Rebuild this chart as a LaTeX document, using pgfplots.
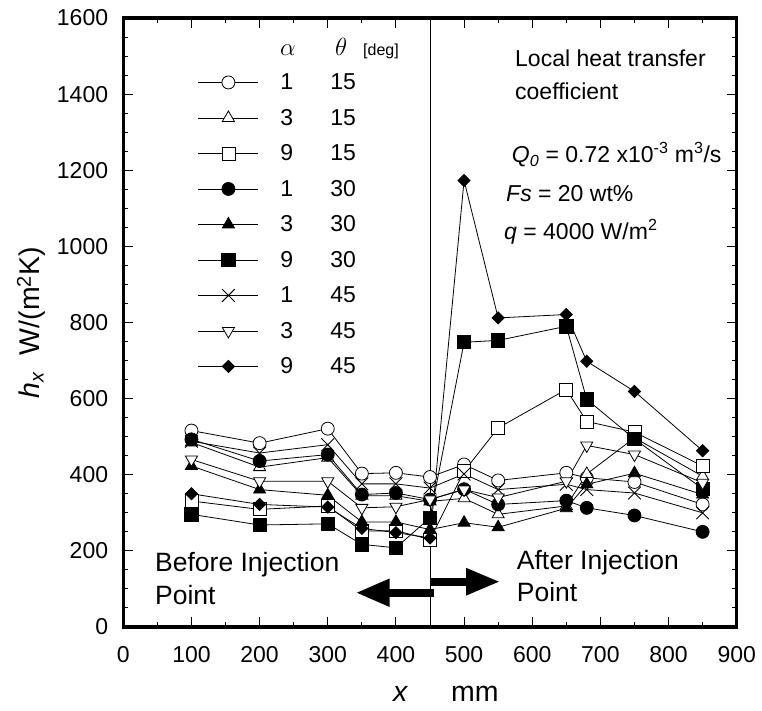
\documentclass[border=0pt]{standalone}
\usepackage{fontspec}
\setmainfont{Liberation Sans}
\usepackage{pgfplots}
\usepackage{pgfplotstable}
\pgfplotsset{compat=1.18}
\usetikzlibrary{arrows.meta}

% columns: s1 (1,15) s2 (3,15) s3 (9,15) s4 (1,30) s5 (3,30) s6 (9,30) s7 (1,45) s8 (3,45) s9 (9,45)
\pgfplotstableread{
x   s1  s2  s3  s4  s5  s6  s7  s8  s9
100 516 485 331 493 423 296 488 440 350
200 483 420 309 436 361 268 457 383 322
300 521 445 318 453 346 271 479 383 315
350 403 345 252 348 276 217 376 313 259
400 405 345 253 352 276 208 376 316 248
450 394 330 230 335 256 287 365 335 234
500 427 338 409 362 274 748 402 361 1173
550 385 296 523 322 262 753 361 340 812
650 405 318 624 332 312 790 375 383 821
680 392 402 540 313 375 598 361 477 698
750 381 497 512 293 404 494 352 453 619
850 322 396 423 250 348 363 300 379 463
}\data

\newcommand{\tf}{\fontsize{23}{27}\selectfont}
\newcommand{\bif}{\fontsize{26.5}{30}\selectfont}
\newcommand{\lf}{\fontsize{28.5}{33}\selectfont}

\begin{document}
\begin{tikzpicture}
\useasboundingbox (-123.3pt,-84pt) rectangle (638.7pt,627pt);
\begin{axis}[
  scale only axis, width=613.4pt, height=609pt,
  xmin=0, xmax=900, ymin=0, ymax=1600,
  xtick={0,100,...,900}, ytick={0,200,...,1600},
  minor x tick num=1, minor y tick num=3,
  tick align=inside,
  major tick length=10pt, minor tick length=5pt,
  tick style={black, line width=1pt},
  axis line style={line width=3.5pt},
  tick label style={font=\tf, inner sep=0pt},
  yticklabel style={xshift=-15pt},
  xticklabel style={yshift=-19pt},
  /pgf/number format/assume math mode=true,
  /pgf/number format/1000 sep={},
  every axis plot/.append style={black, line width=0.8pt, mark options={solid, line width=0.9pt}},
  legend cell align=left,
  legend style={at={(0.1218,0.9233)}, anchor=north west, draw=none, fill=none,
    inner sep=0pt, outer sep=0pt, row sep=0pt, font=\tf,
    nodes={inner sep=0pt, anchor=west, draw=none}},
  legend image code/.code={
    \path[draw=none, fill=none] (0pt,-17.75pt) rectangle (82pt,17.75pt);
    \draw[mark repeat=2,mark phase=2,#1] plot coordinates {(0pt,0pt) (30pt,0pt) (60pt,0pt)};
  },
]
\draw[line width=0.8pt] (axis cs:450,0) -- (axis cs:450,1600);
\draw[line width=8pt, -{Triangle[length=34pt, width=26pt]}] (axis cs:456,90) -- (axis cs:341,90);
\draw[line width=8pt, -{Triangle[length=34pt, width=25pt]}] (axis cs:450,119) -- (axis cs:553,119);

\addplot[mark=*, mark size=6.5pt, mark options={fill=white}] table[x=x,y=s1] {\data};
\addlegendentry{\makebox[50pt][l]{1}15}
\addplot[mark=triangle*, mark size=7pt, mark options={fill=white}] table[x=x,y=s2] {\data};
\addlegendentry{\makebox[50pt][l]{3}15}
\addplot[mark=square*, mark size=6.5pt, mark options={fill=white}] table[x=x,y=s3] {\data};
\addlegendentry{\makebox[50pt][l]{9}15}
\addplot[mark=*, mark size=6.5pt, mark options={fill=black}] table[x=x,y=s4] {\data};
\addlegendentry{\makebox[50pt][l]{1}30}
\addplot[mark=triangle*, mark size=7pt, mark options={fill=black}] table[x=x,y=s5] {\data};
\addlegendentry{\makebox[50pt][l]{3}30}
\addplot[mark=square*, mark size=6.6pt, mark options={fill=black}] table[x=x,y=s6] {\data};
\addlegendentry{\makebox[50pt][l]{9}30}
\addplot[mark=x, mark size=9pt] table[x=x,y=s7] {\data};
\addlegendentry{\makebox[50pt][l]{1}45}
\addplot[mark=triangle*, mark size=7pt, mark options={fill=white, rotate=180}] table[x=x,y=s8] {\data};
\addlegendentry{\makebox[50pt][l]{3}45}
\addplot[mark=square*, mark size=4.3pt, mark options={fill=black, rotate=45}] table[x=x,y=s9] {\data};
\addlegendentry{\makebox[50pt][l]{9}45}
\end{axis}

% header of legend
\node[anchor=base west, inner sep=0pt] at (156.7pt,571pt) {\fontsize{23}{27}\selectfont$\alpha$};
\node[anchor=base west, inner sep=0pt] at (211.7pt,571pt) {\fontsize{23}{27}\selectfont$\theta$};
\node[anchor=base west, inner sep=0pt] at (239.7pt,571pt) {\fontsize{16}{19}\selectfont [deg]};

% annotations
\node[anchor=base west, inner sep=0pt] at (391.7pt,560.3pt) {\tf Local heat transfer};
\node[anchor=base west, inner sep=0pt] at (391.7pt,527pt) {\tf coefficient};
\node[anchor=base west, inner sep=0pt] at (388.4pt,464pt) {\tf \textit{Q}\textsubscript{\textit{0}} = 0.72 x10\textsuperscript{-3} m\textsuperscript{3}/s};
\node[anchor=base west, inner sep=0pt] at (382.7pt,425.3pt) {\tf \textit{Fs} = 20 wt\%};
\node[anchor=base west, inner sep=0pt] at (380.7pt,387pt) {\tf \textit{q} = 4000 W/m\textsuperscript{2}};
\node[anchor=base west, inner sep=0pt] at (31.7pt,55.3pt) {\bif Before Injection};
\node[anchor=base west, inner sep=0pt] at (31.7pt,22pt) {\bif Point};
\node[anchor=base west, inner sep=0pt] at (393.4pt,57pt) {\bif After Injection};
\node[anchor=base west, inner sep=0pt] at (393.4pt,25.3pt) {\bif Point};

% axis labels
\node[anchor=base west, inner sep=0pt] at (269.7pt,-74.7pt) {\lf\textit{x}};
\node[anchor=base west, inner sep=0pt] at (327.7pt,-74.7pt) {\lf mm};
\node[rotate=90, anchor=base, inner sep=0pt] at (-83.3pt,304.5pt) {\lf\textit{h}\textsubscript{\textit{x}}\hspace{16pt}W/(m\textsuperscript{2}K)};
\end{tikzpicture}
\end{document}
